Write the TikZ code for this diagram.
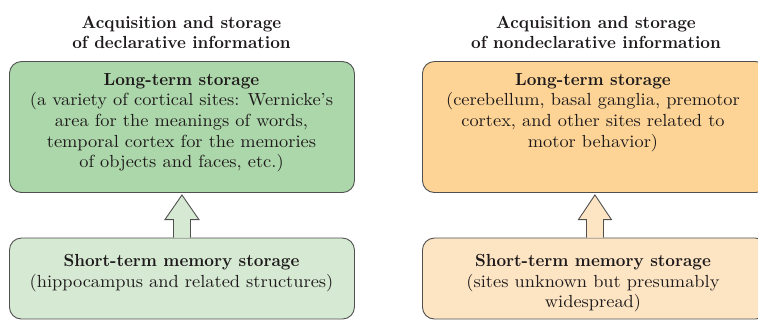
\documentclass[tikz,border=0pt]{standalone}
\usepackage{fontspec}
\setmainfont{lmroman10-regular.otf}[BoldFont=lmroman10-bold.otf, FakeStretch=1.05, BoldFeatures={FakeStretch=0.96}]
\usetikzlibrary{calc}
\definecolor{gA}{RGB}{172,215,170}
\definecolor{gB}{RGB}{214,234,211}
\definecolor{oA}{RGB}{253,212,150}
\definecolor{oB}{RGB}{253,229,196}
\definecolor{bd}{RGB}{80,80,80}
\definecolor{tx}{RGB}{30,26,27}
\tikzset{
  box/.style={draw=bd, line width=0.9pt, rounded corners=12pt, minimum width=345pt, anchor=south west, inner sep=0pt},
  txt/.style={text=tx, align=center, anchor=north, inner sep=0pt, font=\fontsize{17.5}{20.7}\selectfont},
  ttl/.style={text=tx, align=center, inner sep=0pt, font=\fontsize{17.5}{20}\selectfont\bfseries},
  upar/.style={draw=bd, line width=0.9pt, line join=miter}
}
\begin{document}
\begin{tikzpicture}[x=1pt,y=1pt]
\useasboundingbox (0,0) rectangle (758,320);
\clip (0,0) rectangle (758,320);
% titles
\node[ttl] (t1) at (181.5,288) {Acquisition and storage\\of declarative information};
\node[ttl] (t2) at (596,288) {Acquisition and storage\\of nondeclarative information};
% boxes
\node[box, fill=gA, minimum height=131pt] (lt) at (9,127) {};
\node[box, fill=gB, minimum height=81pt] (lb) at (9,0.5) {};
\node[box, fill=oA, minimum height=131pt] (rt) at (422,127) {};
\node[box, fill=oB, minimum height=81pt] (rb) at (422,0.5) {};
% texts
\node[txt] (ltx) at (181.5,247) {\textbf{Long-term storage}\\(a variety of cortical sites: Wernicke's\\area for the meanings of words,\\temporal cortex for the memories\\of objects and faces, etc.)};
\node[txt] (lbx) at (181.5,66) {\textbf{Short-term memory storage}\\(hippocampus and related structures)};
\node[txt] (rtx) at (593,247) {\textbf{Long-term storage}\\(cerebellum, basal ganglia, premotor\\cortex, and other sites related to\\motor behavior)};
\node[txt] (rbx) at (593,66) {\textbf{Short-term memory storage}\\(sites unknown but presumably\\widespread)};
% arrows
\draw[upar, fill=gB] ($(lb.north)+(-8.5,0)$) -- ++(0,18) -- ++(-8.5,0) -- ($(lt.south)+(0,-2)$) -- ($(lb.north)+(17,18)$) -- ++(-8.5,0) -- ($(lb.north)+(8.5,0)$);
\draw[upar, fill=oB] ($(rb.north)+(-8.5,0)$) -- ++(0,18) -- ++(-8,0) -- ($(rt.south)+(0,-2)$) -- ($(rb.north)+(16.5,18)$) -- ++(-8,0) -- ($(rb.north)+(8.5,0)$);
\end{tikzpicture}
\end{document}
